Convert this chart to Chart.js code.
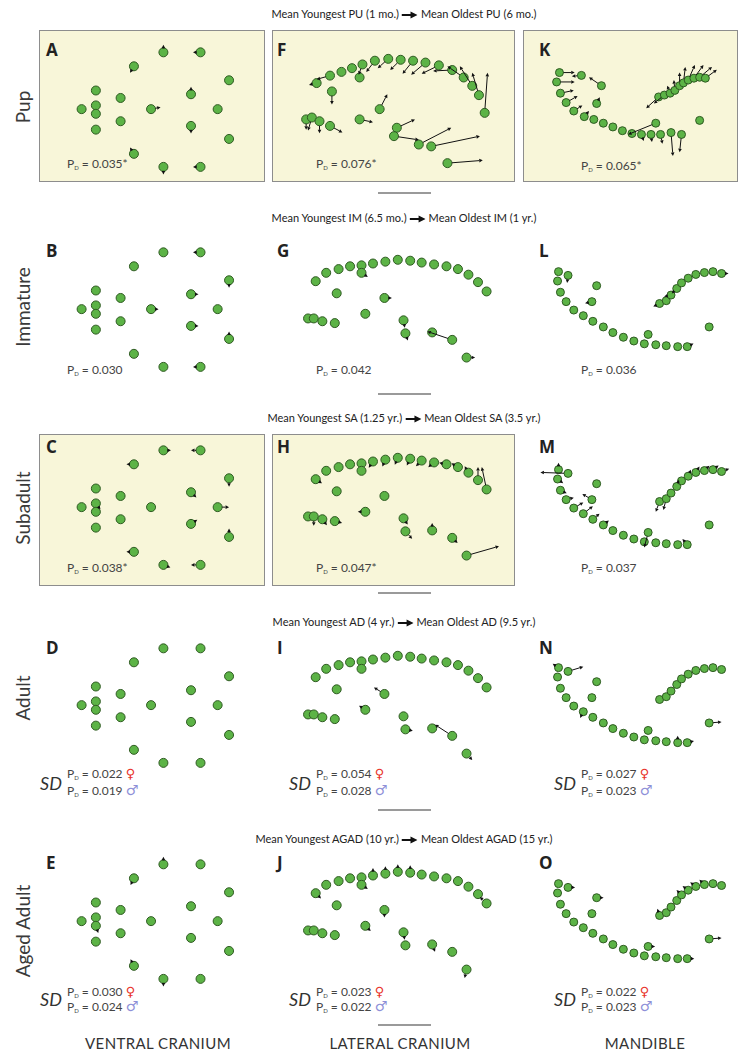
<!DOCTYPE html>
<html>
<head>
<meta charset="utf-8">
<script src="https://cdn.jsdelivr.net/npm/chart.js@4"></script>
<style>
  body { margin: 0; background: #fff; }
  #fig { position: relative; width: 740px; height: 1055px; font-family: Lato, "Open Sans", sans-serif; color: #333; overflow: hidden; }
  .box { position: absolute; background: #f8f6d9; border: 1.5px solid #8d8d8d; box-sizing: border-box; }
  canvas { position: absolute; }
  .title { position: absolute; font-size: 11px; color: #222; white-space: nowrap; transform: translateX(-50%); }
  .title svg { vertical-align: middle; margin: 0 3px; }
  .rowlab { position: absolute; font-size: 19px; color: #3a3a3a; white-space: nowrap; transform: translate(-50%, -50%) rotate(-90deg); }
  .letter { position: absolute; font-family: "Open Sans", sans-serif; font-weight: 700; font-size: 17px; color: #222; transform: translateY(-50%); }
  .pd { position: absolute; font-size: 12px; color: #444; white-space: nowrap; transform: translateY(-50%); }
  .pd sub { font-size: 6px; vertical-align: -2px; }
  .sd { position: absolute; font-size: 18px; font-style: italic; color: #333; transform: translateY(-50%); }
  .fem { color: #e8322a; font-family: "DejaVu Sans"; font-size: 13px; font-weight: bold; }
  .mal { color: #8e90d8; font-family: "DejaVu Sans"; font-size: 14px; }
  .bar { position: absolute; height: 1.5px; background: #9a9a9a; }
  .collab { position: absolute; font-size: 15px; color: #333; letter-spacing: 0.4px; transform: translate(-50%, -50%); white-space: nowrap; }
</style>
</head>
<body>
<div id="fig"></div>
<script>
// landmark configurations (panel units), one per view
const ventralX = [39, 54, 54, 54, 54, 80, 80, 94, 94, 112, 125, 125, 154, 154, 164, 164, 182, 194, 194];
const ventralY = [78, 74, 83, 58, 100, 66, 91, 32, 126, 78, 17, 140, 62, 96, 17, 140, 78, 47, 110];

const lateralX = [40, 51, 64, 76, 88, 100, 113, 126, 139, 151, 164, 177, 189, 200, 210, 219, 88, 62, 112, 32, 38, 47, 60, 92, 132, 134, 162, 183, 198];
const lateralY = [48, 39, 35, 32, 31, 29, 27, 25, 26, 28, 30, 32, 35, 41, 49, 59, 39, 61, 66, 88, 88, 91, 93, 83, 90, 104, 103, 111, 130];

const lateralPupX = [41, 55, 67, 78, 89, 102, 116, 129, 142, 155, 169, 183, 195, 204, 211, 217, 86, 57, 107, 30, 36, 44, 55, 86, 125, 122, 148, 161, 178];
const lateralPupY = [50, 42, 38, 34, 30, 26, 24, 25, 26, 28, 31, 36, 44, 53, 63, 82, 44, 59, 78, 89, 87, 91, 96, 89, 98, 107, 116, 118, 136];

const mandibleX = [32, 42, 31, 34, 40, 48, 58, 68, 79, 89, 100, 111, 122, 134, 145, 157, 167, 126, 72, 67, 138, 145, 150, 156, 161, 168, 176, 185, 194, 203, 190];
const mandibleY = [38, 42, 48, 60, 70, 79, 85, 91, 97, 103, 108, 112, 115, 116, 117, 118, 118, 105, 53, 70, 72, 69, 63, 56, 50, 45, 41, 39, 38, 40, 97];

const mandiblePupX = [33, 56, 30, 34, 40, 48, 59, 69, 79, 89, 99, 109, 119, 129, 139, 150, 161, 134, 77, 72, 137, 143, 149, 154, 159, 163, 168, 174, 180, 186, 180];
const mandiblePupY = [39, 42, 49, 61, 71, 80, 86, 89, 93, 97, 101, 104, 105, 105, 105, 103, 105, 93, 53, 72, 65, 63, 61, 58, 53, 50, 47, 45, 44, 45, 90];

// displacement vectors, youngest -> oldest: [landmark index, dx, dy]
const arrowsA = [[7, -3, 5], [8, -3, -5], [9, 10, -2], [10, 0, -7], [11, 0, 8], [12, 0, -8], [13, 0, 8], [14, -7, 0], [15, -7, 0]];
const arrowsB = [[9, 4, 0], [12, 3, 0], [13, 3, 0], [17, 0, 3], [18, 0, -3], [14, -2, 0], [15, -2, 0]];
const arrowsC = [[1, 3, 4], [7, -5, 0], [8, -5, 0], [10, 5, 0], [11, 5, 2], [12, 3, 3], [13, 3, -2], [14, -10, 0], [15, -10, 0], [16, 12, 0], [17, 0, 9], [18, 0, -9]];
const arrowsD = [];
const arrowsE = [[10, 0, -6], [11, 0, 6], [7, -2, 4], [8, -2, -4], [2, 1, 3]];

const arrowsF = [[0, -8, 2], [1, -14, 4], [4, -4, 11], [5, -9, 12], [6, -11, 10], [7, -11, 11], [8, -11, 14], [9, -15, 13], [10, -18, 9], [11, -20, 1], [12, -17, -12], [13, -13, -21], [14, -7, -24], [15, 3, -43], [17, 0, 14], [18, 8, -16], [19, 0, 11], [20, -4, 14], [21, 0, 13], [22, 13, 7], [23, 14, 3], [24, 19, -9], [25, 26, 4], [26, 34, -18], [27, 51, -11], [28, 37, -3]];
const arrowsG = [[16, 3, 2], [24, 1, 6], [25, 2, 6], [27, -26, -9], [28, 9, 0], [18, 2, 0]];
const arrowsH = [[0, 3, 2], [5, -4, 6], [6, -3, 7], [7, -3, 7], [8, -3, 6], [9, -6, 6], [10, -6, 5], [11, -5, -1], [12, -5, -3], [13, -4, -7], [14, 0, -14], [15, -5, -24], [20, 0, 10], [21, 3, 4], [22, 4, 1], [23, -7, 0], [24, 4, 6], [25, 7, 8], [26, 0, -3], [27, 3, 3], [28, 34, -10]];
const arrowsI = [[23, -6, -4], [18, -11, -7], [25, 5, 1], [27, -18, -12], [28, 6, 7]];
const arrowsJ = [[5, 0, -4], [6, 0, -4], [7, 0, -4], [8, 0, -4], [15, -7, -7], [18, 0, 8], [24, 1, 7], [26, 3, 8], [28, -2, 9], [23, 4, 4], [0, 3, 3], [16, 3, 2]];

const arrowsK = [[0, 16, 0], [1, -10, 1], [2, 19, 0], [3, 14, -3], [4, 12, -7], [5, 9, -6], [6, 5, -6], [18, -13, -9], [19, 3, -6], [17, -29, 12], [12, 2, 6], [13, 1, 8], [14, 2, 10], [15, 2, 25], [16, -2, 19], [20, -13, 12], [21, -11, 9], [22, -3, -8], [23, -1, -11], [24, 0, -14], [25, 2, -17], [26, 7, -16], [27, 10, -14], [28, 13, -11], [29, 12, -9]];
const arrowsL = [[1, -1, 8], [19, -4, 1], [20, -6, 3], [22, -5, 1], [23, -3, 3], [16, 6, -3], [29, 4, 0]];
const arrowsM = [[0, 0, -3], [1, -29, -1], [2, 4, 3], [3, 4, 2], [4, 8, -2], [5, 10, -6], [6, 10, -8], [7, 7, -6], [8, 5, -4], [19, -10, -6], [17, -4, 16], [16, -5, -6], [20, -4, 11], [21, -3, 12], [23, 2, -6], [25, 2, -5], [26, 3, -5], [27, 4, -4], [28, 4, -3], [29, 8, -3]];
const arrowsN = [[1, 16, -5], [0, -3, -2], [6, -2, 4], [15, 0, -5], [16, 4, -1], [30, 13, -1]];
const arrowsO = [[1, 4, 0], [18, 4, 0], [17, 5, 0], [20, -2, -6], [24, -3, -3], [25, -4, -3], [26, -4, -3], [27, -3, -3], [30, 13, -1], [16, 3, 0]];

const rowLabels = ['Pup', 'Immature', 'Subadult', 'Adult', 'Aged Adult'];
const rowTitlesFrom = ['Mean Youngest PU (1 mo.)', 'Mean Youngest IM (6.5 mo.)', 'Mean Youngest SA (1.25 yr.)', 'Mean Youngest AD (4 yr.)', 'Mean Youngest AGAD (10 yr.)'];
const rowTitlesTo = ['Mean Oldest PU (6 mo.)', 'Mean Oldest IM (1 yr.)', 'Mean Oldest SA (3.5 yr.)', 'Mean Oldest AD (9.5 yr.)', 'Mean Oldest AGAD (15 yr.)'];
const columnLabels = ['VENTRAL CRANIUM', 'LATERAL CRANIUM', 'MANDIBLE'];

const pdValues = ['0.035*', '0.076*', '0.065*', '0.030', '0.042', '0.036', '0.038*', '0.047*', '0.037'];
const pdFemale = ['0.022', '0.054', '0.027', '0.030', '0.023', '0.022'];
const pdMale = ['0.019', '0.028', '0.023', '0.024', '0.022', '0.023'];

// layout
const colLeft = [39, 272, 523];
const colWidth = [226, 243, 215];
const rowTop = [31, 231, 429, 627, 843];
const canvasH = 160;
const letterY = [49, 250, 446, 647, 862];
const letterX = [46, 277, 539];
const titleY = [14, 218, 418, 622, 839];
const barY = [192, 393, 592, 809, 1024];
const pdY = [163, 369, 567];
const boxes = [[0, 0], [0, 1], [0, 2], [2, 0], [2, 1]];

const views = {
  ventral: { xs: ventralX, ys: ventralY, r: 4.5 },
  lateral: { xs: lateralX, ys: lateralY, r: 4.5 },
  lateralPup: { xs: lateralPupX, ys: lateralPupY, r: 4.5 },
  mandible: { xs: mandibleX, ys: mandibleY, r: 4 },
  mandiblePup: { xs: mandiblePupX, ys: mandiblePupY, r: 4 }
};

const panels = [
  ['A', 0, 0, 'ventral', arrowsA], ['F', 0, 1, 'lateralPup', arrowsF], ['K', 0, 2, 'mandiblePup', arrowsK],
  ['B', 1, 0, 'ventral', arrowsB], ['G', 1, 1, 'lateral', arrowsG], ['L', 1, 2, 'mandible', arrowsL],
  ['C', 2, 0, 'ventral', arrowsC], ['H', 2, 1, 'lateral', arrowsH], ['M', 2, 2, 'mandible', arrowsM],
  ['D', 3, 0, 'ventral', arrowsD], ['I', 3, 1, 'lateral', arrowsI], ['N', 3, 2, 'mandible', arrowsN],
  ['E', 4, 0, 'ventral', arrowsE], ['J', 4, 1, 'lateral', arrowsJ], ['O', 4, 2, 'mandible', arrowsO]
];

const arrowPlugin = {
  id: 'arrows',
  afterDatasetsDraw(chart, args, opts) {
    const { ctx, scales: { x, y } } = chart;
    const pts = chart.data.datasets[0].data;
    const r = opts.r;
    ctx.save();
    ctx.strokeStyle = '#111';
    ctx.fillStyle = '#111';
    ctx.lineWidth = 1;
    (opts.list || []).forEach(([i, dx, dy]) => {
      const p = pts[i];
      const x0 = x.getPixelForValue(p.x), y0 = y.getPixelForValue(p.y);
      let x1 = x.getPixelForValue(p.x + dx), y1 = y.getPixelForValue(p.y + dy);
      const len = Math.hypot(x1 - x0, y1 - y0);
      if (!len) return;
      const ux = (x1 - x0) / len, uy = (y1 - y0) / len;
      if (len < r + 3) { x1 = x0 + ux * (r + 3); y1 = y0 + uy * (r + 3); }
      const head = 3.5, half = 1.8;
      const bx = x1 - ux * head, by = y1 - uy * head;
      ctx.beginPath();
      ctx.moveTo(x0 + ux * r, y0 + uy * r);
      ctx.lineTo(bx, by);
      ctx.stroke();
      ctx.beginPath();
      ctx.moveTo(x1, y1);
      ctx.lineTo(bx - uy * half, by + ux * half);
      ctx.lineTo(bx + uy * half, by - ux * half);
      ctx.closePath();
      ctx.fill();
    });
    ctx.restore();
  }
};

const fig = document.getElementById('fig');
function add(cls, html, style) {
  const d = document.createElement('div');
  d.className = cls;
  d.innerHTML = html;
  Object.assign(d.style, style);
  fig.appendChild(d);
  return d;
}

boxes.forEach(([r, c]) => {
  add('box', '', { left: colLeft[c] + 'px', top: (r === 0 ? 30 : 434) + 'px', width: colWidth[c] + 'px', height: '152px' });
});

const arrowSvg = '<svg width="16" height="8" viewBox="0 0 16 8"><path d="M0 3h9V0.5L16 4 9 7.5V5H0z" fill="#111"/></svg>';
rowLabels.forEach((lab, r) => {
  add('title', rowTitlesFrom[r] + arrowSvg + rowTitlesTo[r], { left: '404px', top: (titleY[r] - 7) + 'px' });
  add('rowlab', lab, { left: '22px', top: [107, 307, 508, 698, 931][r] + 'px' });
  add('bar', '', { left: '378px', width: '53px', top: barY[r] + 'px' });
});
columnLabels.forEach((lab, c) => {
  add('collab', lab, { left: [158, 400, 645][c] + 'px', top: '1043px' });
});

const pd = v => 'P<sub>D</sub> = ' + v;
pdValues.forEach((v, k) => {
  const r = Math.floor(k / 3), c = k % 3;
  const px = [67, 316, 581][c];
  add('pd', pd(v), { left: px + 'px', top: (pdY[r] + (c === 2 && r === 0 ? 2 : 0)) + 'px' });
});
pdFemale.forEach((v, k) => {
  const r = 3 + Math.floor(k / 3), c = k % 3;
  const px = [67, 316, 581][c];
  const yTop = r === 3 ? 773 : 991, yBot = r === 3 ? 790 : 1006;
  add('sd', 'SD', { left: (px - 27) + 'px', top: (r === 3 ? 783 : 999) + 'px' });
  add('pd', pd(v) + ' <span class="fem">♀</span>', { left: px + 'px', top: yTop + 'px' });
  add('pd', pd(pdMale[k]) + ' <span class="mal">♂</span>', { left: px + 'px', top: yBot + 'px' });
});

panels.forEach(([letter, r, c, view, arrows]) => {
  add('letter', letter, { left: letterX[c] + 'px', top: letterY[r] + 'px' });
  const v = views[view];
  const cv = document.createElement('canvas');
  cv.width = colWidth[c];
  cv.height = canvasH;
  cv.style.left = colLeft[c] + 'px';
  cv.style.top = rowTop[r] + 'px';
  fig.appendChild(cv);
  new Chart(cv, {
    type: 'scatter',
    data: {
      datasets: [{
        data: v.xs.map((x, i) => ({ x, y: v.ys[i] })),
        pointRadius: v.r,
        pointBackgroundColor: '#5cb346',
        pointBorderColor: '#2f5a22',
        pointBorderWidth: 1,
        clip: false
      }]
    },
    options: {
      responsive: false,
      animation: false,
      events: [],
      layout: { padding: 0 },
      scales: {
        x: { min: 0, max: colWidth[c], display: false },
        y: { min: 0, max: canvasH, reverse: true, display: false }
      },
      plugins: {
        legend: { display: false },
        tooltip: { enabled: false },
        arrows: { list: arrows, r: v.r }
      }
    },
    plugins: [arrowPlugin]
  });
});
</script>
</body>
</html>
